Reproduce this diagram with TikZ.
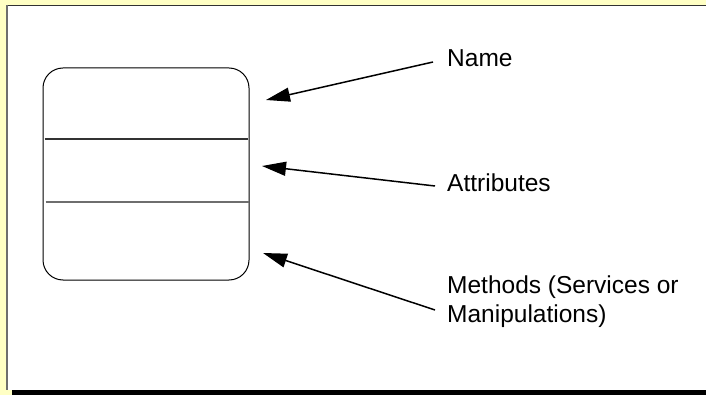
\documentclass[tikz,border=0pt]{standalone}
\usepackage{fontspec}
\setmainfont{Liberation Sans}
\usetikzlibrary{arrows.meta}
\definecolor{bgyellow}{RGB}{255,255,196}
\definecolor{divdark}{RGB}{50,50,50}
\definecolor{divlight}{RGB}{110,110,110}
\tikzset{
  lbl/.style={anchor=base west, inner sep=0pt, font=\fontsize{24.5}{29}\selectfont, align=left},
  pointer/.style={line width=1.5pt, -{Triangle[length=24pt,width=14pt]}},
  classbox/.style={draw=black, line width=1pt, rounded corners=20pt, fill=white,
    minimum width=206pt, minimum height=212pt, inner sep=0pt},
}
\begin{document}
\begin{tikzpicture}[x=1pt,y=-1pt]
\useasboundingbox (0,0) rectangle (706,395);
% frame
\fill[bgyellow] (0,0) rectangle (706,395);
\fill[white] (7,5) rectangle (706,390);
\fill[black] (12,390) rectangle (706,395);
\draw[divdark, line width=1.5pt] (7,5.5) -- (706,5.5);
\draw[divlight, line width=1.5pt] (7,5) -- (7,390);
% class box
\node[classbox] (box) at (146,174) {};
\draw[divdark, line width=1.2pt] ([xshift=2pt]box.west |- 0,139) -- ([xshift=-2pt]box.east |- 0,139);
\draw[divlight, line width=1.2pt] ([xshift=3pt]box.west |- 0,202) -- ([xshift=-1pt]box.east |- 0,202);
% labels
\node[lbl] (name) at (447,67) {Name};
\node[lbl] (attr) at (447,192) {Attributes};
\node[lbl] (meth) at (447,322) {Methods (Services or\\Manipulations)};
% arrow ends
\coordinate (nameS) at (433,62);
\coordinate (nameT) at (266,100);
\coordinate (attrS) at (435,186);
\coordinate (attrT) at (262,166);
\coordinate (methS) at (435,310);
\coordinate (methT) at (263,253);
\draw[pointer] (nameS) -- (nameT);
\draw[pointer] (attrS) -- (attrT);
\draw[pointer] (methS) -- (methT);
\end{tikzpicture}
\end{document}
